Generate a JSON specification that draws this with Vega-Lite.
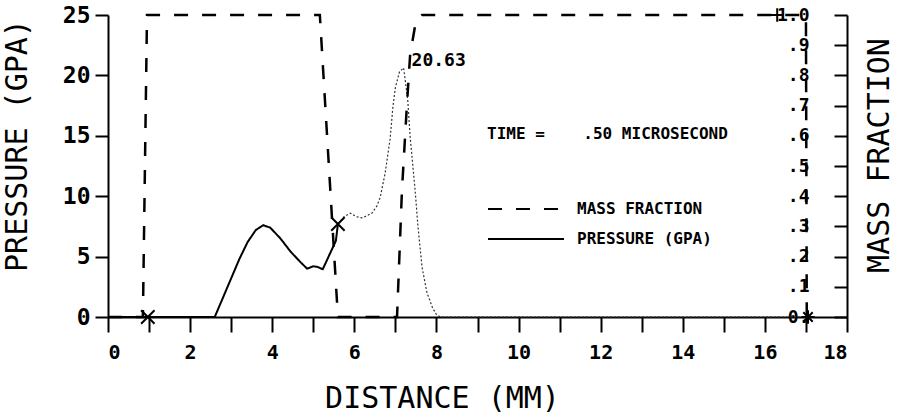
{
  "$schema": "https://vega.github.io/schema/vega-lite/v6.json",
  "width": 739,
  "height": 302,
  "autosize": "none",
  "padding": {"left": 108, "top": 15, "right": 55, "bottom": 100},
  "background": "white",
  "config": {
    "view": {"stroke": null},
    "axis": {
      "grid": false,
      "domainColor": "black",
      "tickColor": "black",
      "labelColor": "black",
      "titleColor": "black",
      "domainWidth": 2,
      "tickWidth": 2,
      "labelFont": "DejaVu Sans Mono",
      "labelFontWeight": "bold",
      "labelFontSize": 20,
      "titleFont": "DejaVu Sans Mono",
      "titleFontWeight": "normal",
      "titleFontSize": 30
    }
  },
  "datasets": {
    "pressureSolid": [
      {"x": 0, "p": 0}, {"x": 2.6, "p": 0}, {"x": 2.8, "p": 1.6}, {"x": 3.0, "p": 3.2},
      {"x": 3.2, "p": 4.8}, {"x": 3.4, "p": 6.2}, {"x": 3.6, "p": 7.2}, {"x": 3.78, "p": 7.6},
      {"x": 3.95, "p": 7.4}, {"x": 4.2, "p": 6.5}, {"x": 4.45, "p": 5.4}, {"x": 4.7, "p": 4.5},
      {"x": 4.85, "p": 4.0}, {"x": 5.0, "p": 4.2}, {"x": 5.1, "p": 4.15}, {"x": 5.23, "p": 3.95},
      {"x": 5.4, "p": 5.2}, {"x": 5.55, "p": 6.3}, {"x": 5.6, "p": 7.7}
    ],
    "pressureDotted": [
      {"x": 5.6, "p": 7.7}, {"x": 5.75, "p": 8.3}, {"x": 5.9, "p": 8.6}, {"x": 6.05, "p": 8.3},
      {"x": 6.2, "p": 8.2}, {"x": 6.43, "p": 8.6}, {"x": 6.55, "p": 9.2}, {"x": 6.63, "p": 9.9},
      {"x": 6.75, "p": 11.9}, {"x": 6.87, "p": 14.7}, {"x": 6.94, "p": 17.4}, {"x": 7.0, "p": 19.0},
      {"x": 7.1, "p": 20.3}, {"x": 7.2, "p": 20.63}, {"x": 7.3, "p": 18.0}, {"x": 7.36, "p": 14.9},
      {"x": 7.48, "p": 10.5}, {"x": 7.55, "p": 7.5}, {"x": 7.65, "p": 4.1}, {"x": 7.77, "p": 2.0},
      {"x": 7.9, "p": 0.8}, {"x": 8.0, "p": 0.2}, {"x": 8.1, "p": 0}, {"x": 17.0, "p": 0}
    ],
    "massFraction": [
      {"x": 0, "mf": 0}, {"x": 0.85, "mf": 0}, {"x": 0.95, "mf": 1.0}, {"x": 5.16, "mf": 1.0},
      {"x": 5.6, "mf": 0}, {"x": 7.04, "mf": 0}, {"x": 7.16, "mf": 0.42}, {"x": 7.28, "mf": 0.7},
      {"x": 7.36, "mf": 0.87}, {"x": 7.5, "mf": 0.98}, {"x": 7.65, "mf": 1.0}, {"x": 17.0, "mf": 1.0},
      {"x": 17.02, "mf": 0}
    ],
    "markers": [
      {"x": 0.97, "p": 0, "m": "x"},
      {"x": 5.6, "p": 7.7, "m": "x"},
      {"x": 16.3, "p": 25, "m": "plus"},
      {"x": 17.05, "p": 0, "m": "star"}
    ],
    "peak": [
      {"x": 7.2, "p": 20.63, "label": "20.63"}
    ]
  },
  "layer": [
    {
      "layer": [
        {
          "data": {"name": "pressureSolid"},
          "mark": {"type": "line", "color": "black", "strokeWidth": 2},
          "encoding": {
            "x": {
              "field": "x", "type": "quantitative",
              "scale": {"domain": [0, 18], "nice": false},
              "axis": {
                "values": [0,1,2,3,4,5,6,7,8,9,10,11,12,13,14,15,16,17,18],
                "labelExpr": "datum.value % 2 == 0 ? datum.label : ''",
                "tickSize": 15,
                "labelPadding": 10,
                "title": "DISTANCE (MM)",
                "titleX": 334,
                "titleY": 66
              }
            },
            "y": {
              "field": "p", "type": "quantitative",
              "scale": {"domain": [0, 25], "nice": false},
              "axis": {
                "values": [0, 5, 10, 15, 20, 25],
                "tickSize": 13,
                "labelPadding": 5,
                "labelFontSize": 23,
                "title": "PRESSURE (GPA)",
                "titleX": -76,
                "titleY": 130
              }
            },
            "strokeDash": {
              "datum": "PRESSURE (GPA)", "type": "nominal",
              "scale": {"domain": ["MASS FRACTION", "PRESSURE (GPA)"], "range": [[14, 14], [1, 0]]},
              "legend": {
                "orient": "none",
                "legendX": 379,
                "legendY": 111,
                "title": "TIME =\u00a0\u00a0\u00a0\u00a0.50 MICROSECOND",
                "titleFont": "DejaVu Sans Mono",
                "titleFontWeight": "bold",
                "titleFontSize": 16,
                "titleColor": "black",
                "titlePadding": 57,
                "titleLimit": 400,
                "labelFont": "DejaVu Sans Mono",
                "labelFontWeight": "bold",
                "labelFontSize": 16,
                "labelColor": "black",
                "labelOffset": 12,
                "symbolType": "stroke",
                "symbolSize": 5776,
                "symbolStrokeWidth": 2,
                "symbolStrokeColor": "black",
                "clipHeight": 20,
                "rowPadding": 10
              }
            }
          }
        },
        {
          "data": {"name": "pressureDotted"},
          "mark": {"type": "line", "color": "#333333", "strokeWidth": 1.2, "strokeDash": [2, 2]},
          "encoding": {
            "x": {"field": "x", "type": "quantitative"},
            "y": {"field": "p", "type": "quantitative"}
          }
        },
        {
          "data": {"name": "markers"},
          "mark": {"type": "point", "filled": false, "color": "black", "strokeWidth": 2, "size": 180, "opacity": 1},
          "encoding": {
            "x": {"field": "x", "type": "quantitative"},
            "y": {"field": "p", "type": "quantitative"},
            "shape": {
              "field": "m", "type": "nominal",
              "scale": {
                "domain": ["x", "plus", "star"],
                "range": ["M-1,-1L1,1M-1,1L1,-1", "M-1,0L1,0M0,-1L0,1", "M-1,0L1,0M0,-1L0,1M-0.7,-0.7L0.7,0.7M-0.7,0.7L0.7,-0.7"]
              },
              "legend": null
            }
          }
        },
        {
          "data": {"name": "peak"},
          "mark": {"type": "text", "align": "left", "baseline": "middle", "dx": 8, "dy": -7, "font": "DejaVu Sans Mono", "fontWeight": "bold", "fontSize": 18, "color": "black"},
          "encoding": {
            "x": {"field": "x", "type": "quantitative"},
            "y": {"field": "p", "type": "quantitative"},
            "text": {"field": "label"}
          }
        }
      ]
    },
    {
      "data": {"name": "massFraction"},
      "mark": {"type": "line", "color": "black", "strokeWidth": 2.5},
      "encoding": {
        "x": {"field": "x", "type": "quantitative"},
        "y": {
          "field": "mf", "type": "quantitative",
          "scale": {"domain": [0, 1], "nice": false},
          "axis": {
            "orient": "left",
            "offset": -739,
            "values": [0, 0.1, 0.2, 0.3, 0.4, 0.5, 0.6, 0.7, 0.8, 0.9, 1.0],
            "labelExpr": "datum.value == 0 ? '0.' : (datum.value == 1 ? '1.0' : substring(format(datum.value, '.1f'), 1))",
            "tickSize": 13,
            "labelAlign": "right",
            "labelPadding": 25,
            "labelFontSize": 18,
            "title": "MASS FRACTION",
            "titleAngle": 270,
            "titleBaseline": "bottom",
            "titleX": 47,
            "titleY": 140
          }
        },
        "strokeDash": {"datum": "MASS FRACTION", "type": "nominal"}
      }
    }
  ],
  "resolve": {"scale": {"y": "independent"}}
}
